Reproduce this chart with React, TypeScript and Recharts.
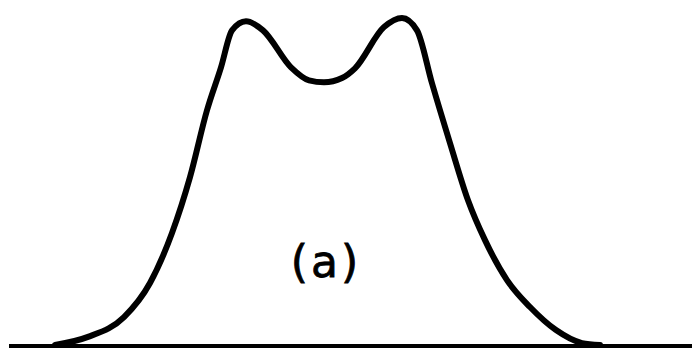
import { LineChart, Line, XAxis, YAxis, ReferenceLine, ReferenceDot } from 'recharts'

// positions along the band and relative intensity (0 = baseline, 100 = left maximum)
const positions = [46, 79, 115, 141, 163, 181, 198, 212, 223, 237, 254, 282, 300, 315, 333, 346, 375, 393, 408, 423, 441, 459, 476, 498, 521, 547, 573, 591]
const intensity = [0.3, 2.8, 8.9, 19.4, 34.8, 52, 72.6, 85.8, 97.2, 100, 97.2, 85.8, 81.8, 81.2, 82.5, 85.5, 98.2, 101, 97.2, 80.9, 62.5, 44.9, 32.6, 20.3, 12, 4.9, 0.9, 0.3]

const panelLabel = '(a)'
const labelAt = { x: 317, y: 26 }

const data = positions.map((x, i) => ({ x, y: intensity[i] }))

export default function App() {
  return (
    <div style={{ position: 'absolute', left: 0, top: 0, width: 692, height: 349, background: '#fff' }}>
      <LineChart width={692} height={349} data={data} margin={{ top: 18, right: 0, bottom: 3, left: 9 }}>
        <XAxis type="number" dataKey="x" domain={[0, 683]} hide />
        <YAxis type="number" domain={[0, 101]} hide />
        <ReferenceLine y={0} stroke="#000" strokeWidth={4} />
        <Line
          type="monotone"
          dataKey="y"
          stroke="#000"
          strokeWidth={6}
          strokeLinecap="round"
          strokeLinejoin="round"
          dot={false}
          isAnimationActive={false}
        />
        <ReferenceDot
          x={labelAt.x}
          y={labelAt.y}
          r={0}
          stroke="none"
          label={{
            value: panelLabel,
            position: 'center',
            fontSize: 44,
            fill: '#000',
            stroke: '#000',
            strokeWidth: 0.8,
            fontFamily: 'DejaVu Sans',
            letterSpacing: 3,
          }}
        />
      </LineChart>
    </div>
  )
}
